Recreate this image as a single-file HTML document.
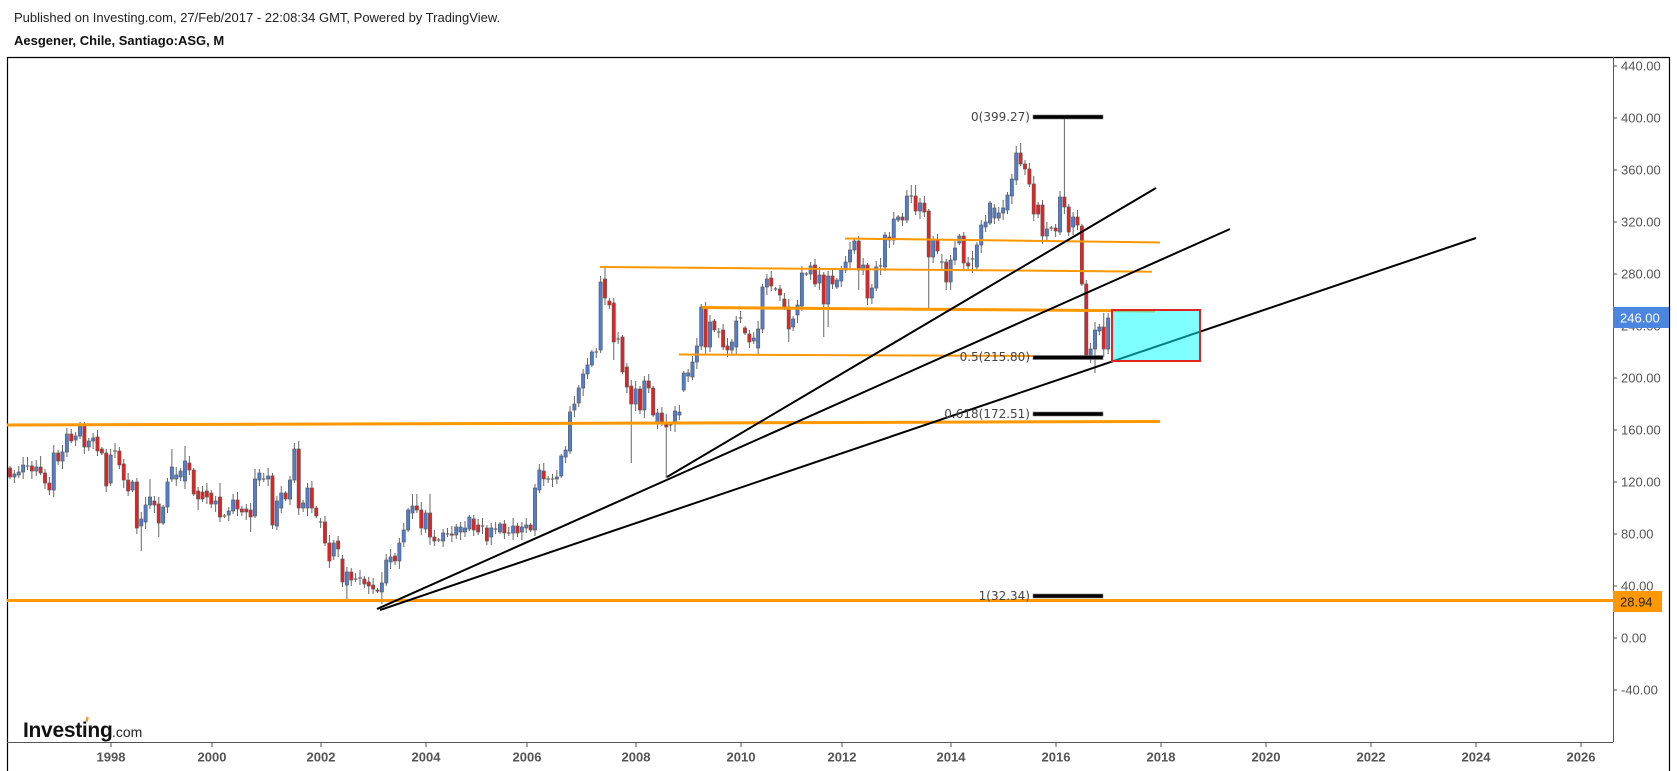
<!DOCTYPE html>
<html>
<head>
<meta charset="utf-8">
<style>
html,body{margin:0;padding:0;background:#fff;}
body{width:1677px;height:771px;overflow:hidden;}
svg{display:block;}
text{font-family:"Liberation Sans",Arial,sans-serif;}
</style>
</head>
<body>
<svg width="1677" height="771" viewBox="0 0 1677 771" xmlns="http://www.w3.org/2000/svg">
<rect x="0" y="0" width="1677" height="771" fill="#fff"/>
<!-- header -->
<text x="14" y="22" font-size="13" fill="#222">Published on Investing.com, 27/Feb/2017 - 22:08:34 GMT, Powered by TradingView.</text>
<text x="14" y="45" font-size="13" font-weight="bold" fill="#111">Aesgener, Chile, Santiago:ASG, M</text>

<!-- frame -->
<line x1="7" y1="57.5" x2="1669" y2="57.5" stroke="#000" stroke-width="1.2"/>
<line x1="7.5" y1="57" x2="7.5" y2="771" stroke="#000" stroke-width="1.2"/>
<line x1="1669.5" y1="57" x2="1669.5" y2="771" stroke="#000" stroke-width="1.2"/>
<!-- price axis -->
<line x1="1613.5" y1="57" x2="1613.5" y2="742" stroke="#555" stroke-width="1"/>
<!-- time axis -->
<line x1="7" y1="742.5" x2="1613" y2="742.5" stroke="#555" stroke-width="1"/>

<g id="pticks" stroke="#555" stroke-width="1">
<line x1="1613" y1="66" x2="1617" y2="66"/>
<line x1="1613" y1="118" x2="1617" y2="118"/>
<line x1="1613" y1="170" x2="1617" y2="170"/>
<line x1="1613" y1="222" x2="1617" y2="222"/>
<line x1="1613" y1="274" x2="1617" y2="274"/>
<line x1="1613" y1="326" x2="1617" y2="326"/>
<line x1="1613" y1="378" x2="1617" y2="378"/>
<line x1="1613" y1="430" x2="1617" y2="430"/>
<line x1="1613" y1="482" x2="1617" y2="482"/>
<line x1="1613" y1="534" x2="1617" y2="534"/>
<line x1="1613" y1="586" x2="1617" y2="586"/>
<line x1="1613" y1="638" x2="1617" y2="638"/>
<line x1="1613" y1="690" x2="1617" y2="690"/>
</g>
<g font-size="13" fill="#555" dominant-baseline="central">
<text x="1621" y="66">440.00</text>
<text x="1621" y="118">400.00</text>
<text x="1621" y="170">360.00</text>
<text x="1621" y="222">320.00</text>
<text x="1621" y="274">280.00</text>
<text x="1621" y="326">240.00</text>
<text x="1621" y="378">200.00</text>
<text x="1621" y="430">160.00</text>
<text x="1621" y="482">120.00</text>
<text x="1621" y="534">80.00</text>
<text x="1621" y="586">40.00</text>
<text x="1621" y="638">0.00</text>
<text x="1621" y="690">-40.00</text>
</g>

<!-- year ticks -->
<g stroke="#555" stroke-width="1">
<line x1="111" y1="742" x2="111" y2="747"/>
<line x1="212" y1="742" x2="212" y2="747"/>
<line x1="321" y1="742" x2="321" y2="747"/>
<line x1="426" y1="742" x2="426" y2="747"/>
<line x1="527" y1="742" x2="527" y2="747"/>
<line x1="636" y1="742" x2="636" y2="747"/>
<line x1="741" y1="742" x2="741" y2="747"/>
<line x1="842" y1="742" x2="842" y2="747"/>
<line x1="951" y1="742" x2="951" y2="747"/>
<line x1="1056" y1="742" x2="1056" y2="747"/>
<line x1="1161" y1="742" x2="1161" y2="747"/>
<line x1="1266" y1="742" x2="1266" y2="747"/>
<line x1="1371" y1="742" x2="1371" y2="747"/>
<line x1="1476" y1="742" x2="1476" y2="747"/>
<line x1="1581" y1="742" x2="1581" y2="747"/>
</g>
<g font-size="13" font-weight="bold" fill="#555" text-anchor="middle" dominant-baseline="central">
<text x="111" y="757">1998</text>
<text x="212" y="757">2000</text>
<text x="321" y="757">2002</text>
<text x="426" y="757">2004</text>
<text x="527" y="757">2006</text>
<text x="636" y="757">2008</text>
<text x="741" y="757">2010</text>
<text x="842" y="757">2012</text>
<text x="951" y="757">2014</text>
<text x="1056" y="757">2016</text>
<text x="1161" y="757">2018</text>
<text x="1266" y="757">2020</text>
<text x="1371" y="757">2022</text>
<text x="1476" y="757">2024</text>
<text x="1581" y="757">2026</text>
</g>

<!-- candles -->
<g id="candles"></g>

<!-- orange horizontal lines -->
<g stroke="#ff9800" fill="none" stroke-linecap="butt">
<line x1="7" y1="600.5" x2="1613" y2="600.5" stroke-width="3"/>
<line x1="7" y1="425" x2="1160" y2="421.5" stroke-width="3"/>
<line x1="679" y1="354.5" x2="1033" y2="356" stroke-width="2"/>
<line x1="702" y1="307.5" x2="1155" y2="311" stroke-width="3"/>
<line x1="600" y1="267" x2="1152" y2="271.7" stroke-width="2"/>
<line x1="845" y1="238.5" x2="1160" y2="242.5" stroke-width="2"/>
</g>

<!-- black trend lines -->
<g stroke="#000" stroke-width="2" fill="none">
<line x1="667" y1="477" x2="1156" y2="188"/>
<line x1="377" y1="609" x2="1230" y2="229"/>
<line x1="380" y1="610" x2="1476" y2="238"/>
</g>

<!-- rectangle -->
<rect x="1112" y="310" width="88" height="51" fill="rgba(0,255,255,0.5)" stroke="#e02424" stroke-width="2"/>

<!-- fib levels -->
<g fill="#000" stroke="#777" stroke-width="0.6">
<rect x="1033" y="115" width="70" height="4"/>
<rect x="1033" y="355.5" width="70" height="4"/>
<rect x="1033" y="412" width="70" height="4"/>
<rect x="1033" y="594" width="70" height="4"/>
</g>
<g font-size="12" fill="#444" text-anchor="end" dominant-baseline="central">
<text x="1030" y="117" style="font-family:'DejaVu Sans',Verdana,sans-serif">0(399.27)</text>
<text x="1030" y="357" style="font-family:'DejaVu Sans',Verdana,sans-serif">0.5(215.80)</text>
<text x="1030" y="414" style="font-family:'DejaVu Sans',Verdana,sans-serif">0.618(172.51)</text>
<text x="1030" y="596" style="font-family:'DejaVu Sans',Verdana,sans-serif">1(32.34)</text>
</g>

<!-- price badges -->
<rect x="1613" y="307" width="56" height="21" fill="#4a86e0"/>
<text x="1620" y="318" font-size="13" fill="#fff" dominant-baseline="central">246.00</text>
<rect x="1613" y="591" width="49" height="21" fill="#ff9800"/>
<text x="1620" y="602" font-size="13" fill="#222" dominant-baseline="central">28.94</text>

<!-- logo -->
<text x="23" y="737" font-size="21" font-weight="bold" fill="#111" letter-spacing="-0.3">Investing</text>
<text x="112" y="737" font-size="14" fill="#222">.com</text>
<rect x="86" y="717" width="2.4" height="4.5" fill="#f7941d" transform="rotate(15 87 719)"/>
</svg>

<script>
var D=[
[468,477,0],[474,477,1,,483],[472,475,1],[465,472,1],[466,466,2,457,470],[466,471,0],[467,471,1],[467,473,0,456],[473,483,0],[483,490,0,,495],
[453,490,1],[453,461,0],[452,461,1,445],[434,452,1,428],[434,441,0,429],[436,440,1],[426,436,1,422],[426,447,0,422],[441,447,1],[438,441,1],
[437,451,0],[449,453,0],[453,486,0,,492],[455,483,1],[451,451,2],[451,465,0,447],[464,480,0],[480,491,0],[482,490,1],[482,528,0],
[519,526,1,512,551],[505,522,1],[497,505,1,479],[501,505,0],[504,523,0,,537],[507,523,1],[482,507,1],[467,479,1,449],[475,479,1],[471,477,1],
[461,481,1,446],[463,470,0],[470,494,0],[491,499,0,,510],[492,499,0],[491,497,0],[493,504,0],[501,504,1],[497,517,0,483],[516,516,2],
[511,515,1],[500,511,1],[500,509,0],[509,512,0],[509,512,0],[510,517,0,,532],[479,516,1,469],[473,480,1],[479,479,2],[476,479,1],
[476,525,0],[501,526,1,,530],[493,508,1],[493,499,0],[480,499,1],[449,480,1],[449,508,0],[503,508,1],[488,508,1],[488,508,0],
[508,516,0],[522,522,2],[522,543,0],[543,561,0],[543,556,1],[541,549,0],[559,582,0,555],[572,585,1,567,602],[572,580,0],[579,579,2],
[578,578,2],[579,584,0],[582,586,0],[585,589,0],[590,591,0],[583,592,1,572,604],[560,583,1],[557,562,1],[556,561,0],[543,561,1],
[530,542,1],[510,530,1],[506,513,1,494],[506,510,0,494],[510,528,0],[513,529,1],[513,537,0,494],[537,541,0],[540,540,2],[533,541,1],
[534,534,2],[534,535,0],[527,535,1],[527,532,1],[528,532,1],[517,529,1],[519,530,0],[525,532,0],[526,527,2],[528,541,0],
[528,537,1],[529,529,2],[524,532,1],[524,533,0],[533,533,2],[526,533,1],[526,533,0],[527,532,1],[525,528,1],[525,530,0],
[488,530,1],[470,490,1],[471,479,0],[479,479,2],[479,479,2],[477,479,1],[456,476,1],[450,457,1],[412,451,1],[404,410,1],
[388,403,1],[374,388,1],[365,374,1],[352,365,1],[352,352,2],[282,350,1],[279,298,0,267],[301,305,0],[303,342,0,,360],[339,339,2],
[337,372,0],[367,387,0],[386,404,0,,463],[389,404,1],[389,410,0],[381,410,1],[381,388,0],[388,415,0],[413,423,1],[413,423,0],
[422,427,0,,478],[425,427,2],[411,424,1],[412,415,1],[373,390,1],[373,376,1],[362,377,1],[346,362,1],[307,346,1],[307,347,0],
[322,347,1],[321,330,0],[332,332,2],[330,347,0],[346,350,0],[342,350,1],[321,347,1],[318,318,2],[328,333,0],[334,342,0],
[338,341,1],[329,348,1],[287,329,1],[279,287,1],[278,286,0],[289,289,2],[289,295,0],[299,307,0],[307,329,0,,342],[319,327,1],
[305,315,1],[273,306,1],[274,274,2],[266,274,1],[265,284,0],[275,283,1],[275,304,0,,337],[276,304,1,,327],[276,284,0],[280,287,1],
[270,281,1],[262,270,1],[250,262,1],[241,250,1],[241,270,0,,290],[265,270,1],[265,298,0,,305],[288,298,1],[267,288,1],[266,268,2],
[235,267,1],[237,240,0],[219,240,1],[217,220,1],[217,220,0],[196,220,1],[196,196,2,185],[196,211,0,185],[203,211,1],[203,212,0],
[211,257,0,,310],[240,257,1],[240,251,0],[262,262,2],[262,282,0,,290],[260,282,1],[248,260,1],[236,243,1],[236,263,0],[263,266,0],
[259,266,2],[245,267,1],[225,245,1],[222,227,1],[203,223,1],[208,218,1],[213,218,1],[208,213,1],[195,210,1],[179,196,1],
[153,180,1],[153,164,0,143],[164,169,0],[169,184,0],[184,214,0],[205,214,0],[205,236,0],[229,236,1],[228,229,2],[228,231,0],
[197,232,1],[197,207,0,117],[207,232,0],[217,227,1],[217,225,0],[226,284,0],[284,356,0,,358],[349,356,1,,363],[330,349,1,,373],[327,331,1],
[327,349,0,313],[318,349,1,313]
];
var s='';
for(var i=0;i<D.length;i++){
  var d=D[i];
  var x=(10+i*4.375).toFixed(2);
  var t=d[0],b=d[1],c=d[2],h=d[3],l=d[4];
  if(h==null) h=t-(2+(i*37)%7);
  if(l==null) l=b+(2+(i*53)%7);
  s+='<line x1="'+x+'" y1="'+h+'" x2="'+x+'" y2="'+l+'" stroke="#666" stroke-width="1"/>';
  if(c===2){
    s+='<line x1="'+(x-1.8)+'" y1="'+t+'" x2="'+(+x+1.8)+'" y2="'+t+'" stroke="#666" stroke-width="1.2"/>';
  }else{
    var hh=Math.max(b-t,1.2);
    s+='<rect x="'+(x-1.6).toFixed(2)+'" y="'+t+'" width="3.2" height="'+hh+'" fill="'+(c===1?'#4e7fd8':'#ee1c1c')+'" stroke="#5d5d5d" stroke-width="0.7"/>';
  }
}
document.getElementById('candles').innerHTML=s;
</script>
</body>
</html>
